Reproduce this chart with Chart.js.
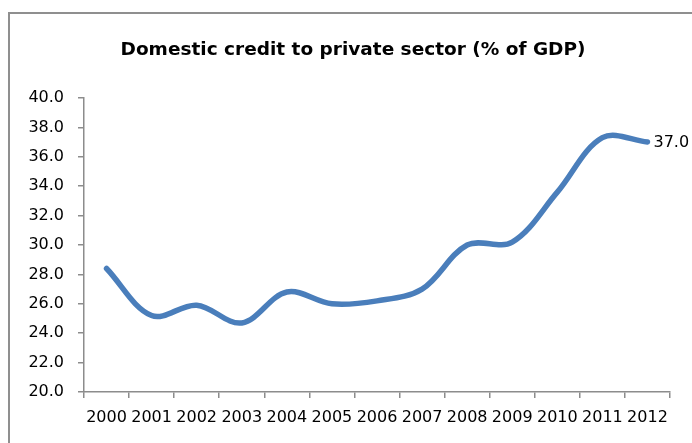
<!DOCTYPE html>
<html>
<head>
<meta charset="utf-8">
<script src="https://cdn.jsdelivr.net/npm/chart.js@4.4.1/dist/chart.umd.min.js"></script>
<style>
  html, body { margin: 0; padding: 0; background: #ffffff; overflow: hidden; }
  #wrap { position: relative; width: 692px; height: 443px; }
  #frame { position: absolute; left: 8px; top: 12px; width: 800px; height: 600px;
           border-top: 2px solid #8f8f8f; border-left: 2px solid #8f8f8f; box-sizing: border-box; z-index: 0; }
  #c { position: absolute; left: 0; top: 0; z-index: 1; }
</style>
</head>
<body>
<div id="wrap">
  <div id="frame"></div>
  <canvas id="c" width="692" height="443"></canvas>
</div>
<script>
const titleText = "Domestic credit to private sector (% of GDP)";
const years = ["2000","2001","2002","2003","2004","2005","2006","2007","2008","2009","2010","2011","2012"];
const creditValues = [28.4, 25.2, 25.9, 24.7, 26.8, 26.0, 26.2, 27.0, 30.0, 30.2, 33.6, 37.3, 37.0];
const yMin = 20, yMax = 40, yStep = 2;

const FONT = "'DejaVu Sans', sans-serif";
const AXIS_COLOR = "#8c8c8c";

const titlePlugin = {
  id: "customTitle",
  afterDraw(chart) {
    const ctx = chart.ctx;
    ctx.save();
    ctx.font = "bold 18.5px " + FONT;
    ctx.fillStyle = "#000000";
    ctx.textAlign = "center";
    ctx.textBaseline = "middle";
    const cx = (chart.chartArea.left + chart.chartArea.right) / 2 - 24;
    ctx.fillText(titleText, cx, 50);
    ctx.restore();
  }
};

const lastLabelPlugin = {
  id: "lastLabel",
  afterDatasetsDraw(chart) {
    const meta = chart.getDatasetMeta(0);
    const i = creditValues.length - 1;
    const pt = meta.data[i];
    const ctx = chart.ctx;
    ctx.save();
    ctx.font = "16px " + FONT;
    ctx.fillStyle = "#000000";
    ctx.textAlign = "left";
    ctx.textBaseline = "middle";
    ctx.fillText(creditValues[i].toFixed(1), pt.x + 6, pt.y + 1);
    ctx.restore();
  }
};

new Chart(document.getElementById("c"), {
  type: "line",
  data: {
    labels: years,
    datasets: [{
      data: creditValues,
      borderColor: "#4a7ebb",
      borderWidth: 5.5,
      borderCapStyle: "round",
      borderJoinStyle: "round",
      tension: 0.35,
      pointRadius: 0,
      pointHoverRadius: 0,
      fill: false,
      clip: false
    }]
  },
  options: {
    responsive: false,
    devicePixelRatio: 1,
    animation: false,
    events: [],
    layout: { padding: { left: 0, right: 22, top: 98, bottom: 0 } },
    plugins: {
      legend: { display: false },
      tooltip: { enabled: false },
      title: { display: false }
    },
    scales: {
      x: {
        offset: true,
        grid: { display: true, offset: true, drawOnChartArea: false, drawTicks: true, tickLength: 6, color: AXIS_COLOR, lineWidth: 1.5 },
        border: { display: true, color: AXIS_COLOR, width: 1.5 },
        ticks: { color: "#000000", font: { family: FONT, size: 16 }, padding: 10, maxRotation: 0, autoSkip: false },
        afterFit(scale) { scale.height = 51; }
      },
      y: {
        min: yMin,
        max: yMax,
        grid: { display: true, drawOnChartArea: false, drawTicks: true, tickLength: 6, color: AXIS_COLOR, lineWidth: 1.5 },
        border: { display: true, color: AXIS_COLOR, width: 1.5 },
        ticks: {
          stepSize: yStep,
          color: "#000000",
          font: { family: FONT, size: 16 },
          padding: 14,
          callback: (v) => Number(v).toFixed(1)
        },
        afterFit(scale) { scale.width = 84; }
      }
    }
  },
  plugins: [lastLabelPlugin, titlePlugin]
});
</script>
</body>
</html>
